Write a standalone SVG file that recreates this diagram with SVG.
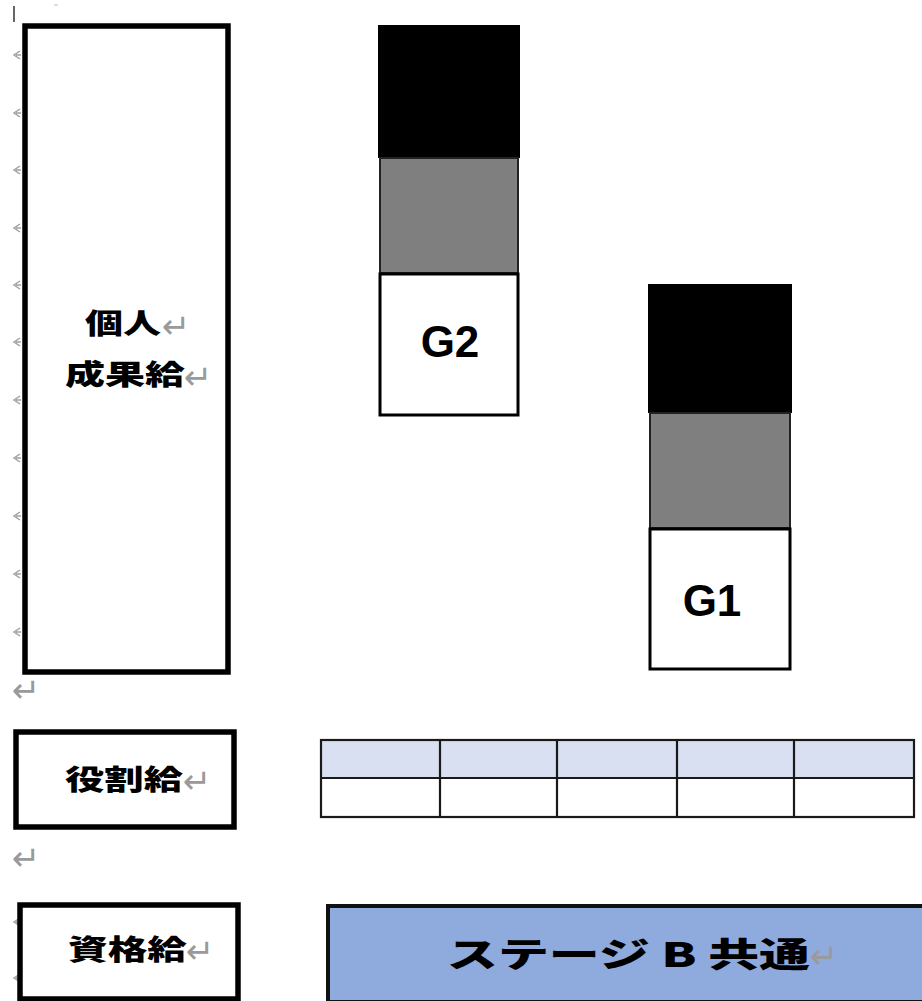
<svg xmlns="http://www.w3.org/2000/svg" width="922" height="1001" viewBox="0 0 922 1001">
<style>
.box{fill:#fff;stroke:#000;stroke-width:5.5}
.jp{font-family:"Noto Sans CJK JP","Noto Sans",sans-serif;font-weight:900;fill:#000}
.g{font-family:"Liberation Sans",Arial,sans-serif;font-weight:bold;font-size:44px;fill:#000;text-anchor:middle}
.ret{font-family:"DejaVu Sans",sans-serif;font-size:34px;fill:#9a9a9a}
.anc{fill:none;stroke:#a0a0a0;stroke-width:1.5}
.cell{stroke:#1a1a1a;stroke-width:2.2}
</style>
<defs>
<path id="anchor" d="M20,-4 L14,0 L20,4 M16,0 L21,0" class="anc"/>
</defs>
<rect width="922" height="1001" fill="#fff"/>
<g id="marks">
<line x1="14" y1="6" x2="14" y2="22" stroke="#333" stroke-width="1.5"/>
<line x1="54" y1="5" x2="58" y2="5" stroke="#bbb" stroke-width="1"/>
<use href="#anchor" y="55"/><use href="#anchor" y="113"/><use href="#anchor" y="170"/><use href="#anchor" y="228"/><use href="#anchor" y="285"/><use href="#anchor" y="342"/><use href="#anchor" y="400"/><use href="#anchor" y="458"/><use href="#anchor" y="516"/><use href="#anchor" y="574"/><use href="#anchor" y="632"/>
<use href="#anchor" y="922"/><use href="#anchor" y="978"/>
<text class="ret" x="12" y="702">↵</text>
<text class="ret" x="12" y="870">↵</text>
<line x1="510" y1="340" x2="510" y2="346" stroke="#ccc" stroke-width="1"/>
<path d="M771,600 L777,600 M774,596 L774,605" stroke="#bbb" stroke-width="1" fill="none"/>
</g>
<g id="node-kojin">
<rect class="box" x="25" y="26" width="203" height="646"/>
<text class="jp" x="85" y="334" font-size="28" textLength="76" lengthAdjust="spacingAndGlyphs">個人</text>
<text class="ret" x="162" y="338">↵</text>
<text class="jp" x="65" y="385" font-size="28" textLength="120" lengthAdjust="spacingAndGlyphs">成果給</text>
<text class="ret" x="184" y="389">↵</text>
</g>
<g id="node-g2">
<rect x="378" y="25" width="142" height="133" fill="#000"/>
<rect x="380" y="158" width="138" height="115" fill="#7f7f7f" stroke="#222" stroke-width="2"/>
<rect x="380" y="274" width="138" height="141" fill="#fff" stroke="#000" stroke-width="3"/>
<text class="g" x="450" y="357">G2</text>
</g>
<g id="node-g1">
<rect x="648" y="284" width="144" height="129" fill="#000"/>
<rect x="650" y="413" width="140" height="115" fill="#7f7f7f" stroke="#222" stroke-width="2"/>
<rect x="650" y="529" width="140" height="140" fill="#fff" stroke="#000" stroke-width="3"/>
<text class="g" x="712" y="616">G1</text>
</g>
<g id="node-yakuwari">
<rect class="box" x="16" y="732" width="218" height="95"/>
<text class="jp" x="65" y="790" font-size="28" textLength="118" lengthAdjust="spacingAndGlyphs">役割給</text>
<text class="ret" x="183" y="793">↵</text>
</g>
<g id="node-table">
<rect x="321" y="740" width="593" height="38" fill="#d9e0f2"/>
<rect x="321" y="778" width="593" height="39" fill="#fff"/>
<rect class="cell" x="321" y="740" width="593" height="77" fill="none"/>
<line class="cell" x1="321" y1="778" x2="914" y2="778"/>
<line class="cell" x1="440" y1="740" x2="440" y2="817"/>
<line class="cell" x1="557" y1="740" x2="557" y2="817"/>
<line class="cell" x1="677" y1="740" x2="677" y2="817"/>
<line class="cell" x1="794" y1="740" x2="794" y2="817"/>
</g>
<g id="node-shikaku">
<rect class="box" x="20" y="905" width="218" height="94"/>
<text class="jp" x="68" y="960" font-size="28" textLength="119" lengthAdjust="spacingAndGlyphs">資格給</text>
<text class="ret" x="186" y="963">↵</text>
</g>
<g id="node-stage">
<rect x="328" y="906" width="600" height="96" fill="#8faadc" stroke="#111" stroke-width="4"/>
<text class="jp" x="447" y="967" font-size="34" textLength="363" lengthAdjust="spacingAndGlyphs">ステージ B 共通</text>
<text class="ret" x="810" y="968" font-size="40">↵</text>
</g>
<g id="connectors"></g>
</svg>
